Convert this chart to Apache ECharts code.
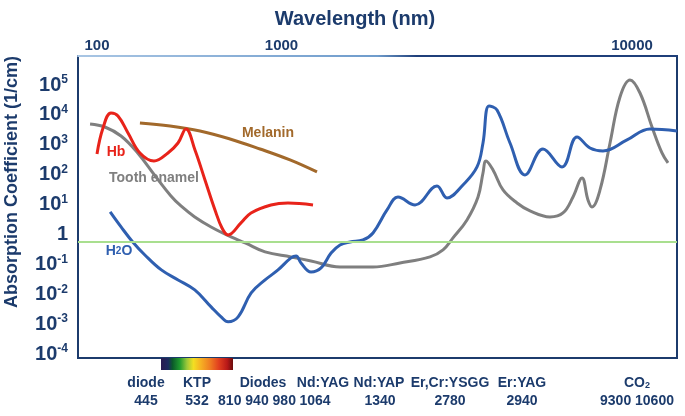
<!DOCTYPE html>
<html><head><meta charset="utf-8">
<script src="https://cdn.jsdelivr.net/npm/echarts@6/dist/echarts.min.js"></script>
<style>html,body{margin:0;padding:0;background:#fff}#c{width:685px;height:416px}</style>
</head><body><div id="c"></div>
<script>
// ---- data (wavelength in nm, absorption coefficient in 1/cm) ----
const h2oWavelength = [112,123,136,151,174,201,232,267,291,309,337,377,425,475,531,555,579,631,688,750,810,883,987,1076,1214,1334,1545,1866,2034,2334,2634,2773,2920,3129,3499,3981,4648,5474,6229,6966,7790,9579,11675,14730];
const h2oAbsorption = [5.66,1.78,0.561,0.206,0.065,0.0301,0.0139,0.00376,0.00174,0.00119,0.00174,0.0110,0.0301,0.065,0.164,0.191,0.111,0.0557,0.0759,0.240,0.446,0.561,0.655,1.12,6.59,17.9,9.70,41.9,16.6,45.3,181,1148,19860,14590,1148,97.7,724,181,1824,781,621,1449,3374,2897];

const enamelWavelength = [94.2,107,123,142,165,189,206,232,267,317,358,425,531,631,810,1076,1357,1758,1966,2142,2416,2657,2773,2846,3023,3295,3717,4157,4936,5521,6018,6503,6846,7087,7593,8277,9018,9829,10713,11879,12944,13632];
const enamelAbsorption = [4966,3936,1968,532,90.6,19.4,8.97,3.85,1.78,0.824,0.520,0.260,0.177,0.130,0.0818,0.0818,0.111,0.177,0.303,0.764,3.06,17.9,114,287,144,30.8,11.3,6.11,3.85,5.23,17.9,77.6,14.3,8.32,30.8,1148,39720,146900,53950,3936,532,246];

const hbWavelength = [100,105.3,112.8,119.8,130.6,144.7,163.3,184.2,200.8,215.1,232.4,253.3,276.1,293.3,308.9,345.3,376.5,447.2,517.6,642];
const hbAbsorption = [492,3648,11590,9190,2483,532,287,532,1148,3374,670,66.5,6.59,1.65,0.962,2.43,5.23,9.70,11.3,9.70];

const melaninWavelength = [144.7,187.5,242.7,314.2,406.8,526.7,664.4];
const melaninAbsorption = [5358,4256,2897,1563,724,311,123];

const referenceLevel = 0.56;

const topTicks = [100, 1000, 10000];
const yTicks = [1e-4,1e-3,1e-2,1e-1,1,1e1,1e2,1e3,1e4,1e5];

const laserNames = ['diode','KTP','Diodes','Nd:YAG','Nd:YAP','Er,Cr:YSGG','Er:YAG','CO{sub|2}'];
const laserWavelengths = ['445','532','810 940 980','1064','1340','2780','2940','9300 10600'];

// ---- layout / style ----
const NAVY = '#1c3b6c';
const FONT = '"Liberation Sans", Arial, sans-serif';
const nameX = [146,197,263,323,379,450,522,637];
const waveX = [146,197,257,315,380,450,522,637];

const pairs = (xs, ys) => xs.map((x, i) => [x, ys[i]]);

const chart = echarts.init(document.getElementById('c'), null, {renderer: 'canvas'});

const graphics = [];
graphics.push({type:'text', x: 355, y: 19, style:{text:'Wavelength (nm)', fill: NAVY, font: 'bold 20px ' + FONT, align:'center', verticalAlign:'middle'}});
graphics.push({type:'text', x: 12, y: 182, rotation: Math.PI/2, style:{text:'Absorption Coefficient (1/cm)', fill: NAVY, font: 'bold 18px ' + FONT, align:'center', verticalAlign:'middle'}});
graphics.push({type:'rect', shape:{x:161, y:358, width:72, height:12}, style:{fill: new echarts.graphic.LinearGradient(0,0,1,0,[
  {offset:0, color:'#2a1a50'},{offset:0.1, color:'#1c2a5e'},{offset:0.16, color:'#0b5a2a'},{offset:0.26, color:'#1f9a2e'},
  {offset:0.36, color:'#9cc83a'},{offset:0.45, color:'#f3df22'},{offset:0.55, color:'#f6b223'},{offset:0.68, color:'#ef7d22'},
  {offset:0.8, color:'#e2401f'},{offset:0.92, color:'#b81818'},{offset:1, color:'#6a0c0c'}])}});
laserNames.forEach((n, i) => {
  graphics.push({type:'text', x: nameX[i], y: 383, style:{text: n, fill: NAVY, font: 'bold 14px ' + FONT, align:'center', verticalAlign:'middle',
    rich:{sub:{fontSize:9, fontWeight:'bold', fontFamily:FONT, fill:NAVY, verticalAlign:'bottom'}}}});
  graphics.push({type:'text', x: waveX[i], y: 401, style:{text: laserWavelengths[i], fill: NAVY, font: 'bold 14px ' + FONT, align:'center', verticalAlign:'middle'}});
});
graphics.push({type:'text', x: 116, y: 152, style:{text:'Hb', fill:'#e8231a', font:'bold 14px ' + FONT, align:'center', verticalAlign:'middle'}});
graphics.push({type:'text', x: 154, y: 178, z: -1, style:{text:'Tooth enamel', fill:'#7f7f7f', font:'bold 14px ' + FONT, align:'center', verticalAlign:'middle'}});
graphics.push({type:'text', x: 268, y: 133, style:{text:'Melanin', fill:'#a2692b', font:'bold 14px ' + FONT, align:'center', verticalAlign:'middle'}});
graphics.push({type:'text', x: 119, y: 251, style:{text:'H{sub|2}O', fill:'#2f5fb0', font:'bold 14px ' + FONT, align:'center', verticalAlign:'middle',
  rich:{sub:{fontSize:10, fontWeight:'bold', fontFamily:FONT, fill:'#2f5fb0'}}}});

const lineSeries = (name, xs, ys, color) => ({
  name, type:'line', data: pairs(xs, ys), smooth: 0.4, showSymbol:false, symbol:'none',
  lineStyle:{color, width:3}, z: 3, clip: true
});

const option = {
  animation: false,
  grid: {left:78, right:8, top:56, bottom:58, show:true, borderColor: NAVY, borderWidth:2, backgroundColor:'rgba(0,0,0,0)'},
  xAxis: {
    type:'log', logBase:10, position:'top',
    min: Math.pow(10, 2 - 19/267.5), max: Math.pow(10, 2 + 580/267.5),
    axisLine:{show:true, onZero:false, lineStyle:{width:2, color: new echarts.graphic.LinearGradient(0,0,1,0,[
      {offset:0, color:'#a9c6e4'},{offset:0.5, color:'#6f9ccc'},{offset:0.565, color:'#1f3f7a'},{offset:1, color:'#1f3f7a'}])}},
    axisTick:{show:false}, splitLine:{show:false},
    axisLabel:{
      customValues: topTicks, margin: 3, color: NAVY, fontSize: 15, fontWeight:'bold', fontFamily: FONT,
      formatter: v => (Math.round(v) === 1000 ? '{s|1000}' : String(Math.round(v))),
      rich:{s:{padding:[0,166,0,0], color: NAVY, fontSize:15, fontWeight:'bold', fontFamily:FONT}}
    }
  },
  yAxis: {
    type:'log', logBase:10,
    min: Math.pow(10, -4 - 4/29.9), max: Math.pow(10, 5 + 29/29.9),
    axisLine:{show:false}, axisTick:{show:false}, splitLine:{show:false},
    axisLabel:{
      customValues: yTicks, margin: 10, align:'right',
      formatter: v => { const e = Math.round(Math.log10(v)); return e === 0 ? '{b|1}' : '{b|10}{s|' + e + '}'; },
      rich:{
        b:{fontSize:20, fontWeight:'bold', fontFamily:FONT, color:NAVY, lineHeight:22},
        s:{fontSize:12, fontWeight:'bold', fontFamily:FONT, color:NAVY, verticalAlign:'top', lineHeight:12}
      }
    }
  },
  series: [
    Object.assign(lineSeries('Tooth enamel', enamelWavelength, enamelAbsorption, '#7f7f7f'), {
      markLine:{silent:true, symbol:'none', label:{show:false}, lineStyle:{color:'#a9df8f', width:2, type:'solid'}, data:[{yAxis: referenceLevel}]}
    }),
    lineSeries('Melanin', melaninWavelength, melaninAbsorption, '#a2692b'),
    lineSeries('Hb', hbWavelength, hbAbsorption, '#e8231a'),
    lineSeries('H2O', h2oWavelength, h2oAbsorption, '#2f5fb0')
  ],
  graphic: graphics
};
chart.setOption(option);
</script></body></html>
